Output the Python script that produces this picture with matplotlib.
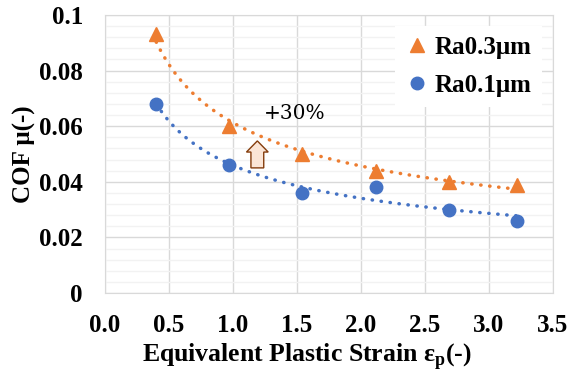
import numpy as np
import matplotlib.pyplot as plt
from matplotlib.patches import FancyArrow

# datos
strain = [0.40, 0.97, 1.54, 2.12, 2.69, 3.22]
cof_ra03 = [0.093, 0.060, 0.050, 0.044, 0.040, 0.039]
cof_ra01 = [0.068, 0.046, 0.036, 0.038, 0.030, 0.026]
x_ticks = [0.0, 0.5, 1.0, 1.5, 2.0, 2.5, 3.0, 3.5]
y_ticks = [0, 0.02, 0.04, 0.06, 0.08, 0.1]

naranja = '#ED7D31'
azul = '#4472C4'

plt.rcParams['font.family'] = ['Liberation Serif', 'DejaVu Serif']
plt.rcParams['font.weight'] = 'bold'
plt.rcParams['axes.labelweight'] = 'bold'
plt.rcParams['mathtext.fontset'] = 'custom'
plt.rcParams['mathtext.bf'] = 'Liberation Serif:bold'
plt.rcParams['mathtext.rm'] = 'Liberation Serif:bold'

fig = plt.figure(figsize=(5.68, 3.72), dpi=100)
ax = fig.add_axes([0.1849, 0.2124, 0.9736 - 0.1849, 0.9597 - 0.2124])

# lineas de tendencia tipo potencia (como Excel)
def potencia(x, y):
    b, ln_a = np.polyfit(np.log(x), np.log(y), 1)
    xs = np.linspace(min(x), max(x), 200)
    return xs, np.exp(ln_a) * xs ** b

for datos, color in [(cof_ra03, naranja), (cof_ra01, azul)]:
    xs, ys = potencia(strain, datos)
    ax.plot(xs, ys, color=color, lw=2.5, linestyle=(0, (0.1, 2.5)),
            dash_capstyle='round', zorder=2)

ax.plot(strain, cof_ra03, '^', color=naranja, ms=10, label='Ra0.3μm', zorder=3)
ax.plot(strain, cof_ra01, 'o', color=azul, ms=9, label='Ra0.1μm', zorder=3)

# flecha +30%
ax.add_patch(FancyArrow(1.19, 0.045, 0, 0.0097, width=0.1, head_width=0.17,
                        head_length=0.004, length_includes_head=True,
                        facecolor='#FBE5D6', edgecolor='#843C0C', lw=1, zorder=4))
ax.text(1.48, 0.0645, '+30%', family='DejaVu Serif', fontweight='medium',
        fontsize=14.5, ha='center', va='center', zorder=4)

ax.set_xlim(0, 3.5)
ax.set_ylim(0, 0.1)
ax.set_xticks(x_ticks)
ax.set_xticklabels([f'{v:.1f}' for v in x_ticks])
ax.set_yticks(y_ticks)
ax.set_yticklabels(['0', '0.02', '0.04', '0.06', '0.08', '0.1'])
ax.set_yticks(np.arange(0, 0.1, 0.004), minor=True)
ax.grid(True, which='major', color='#D9D9D9', lw=1, zorder=0)
ax.grid(True, which='minor', axis='y', color='#F2F2F2', lw=1, zorder=0)
ax.set_axisbelow(True)
ax.tick_params(which='both', length=0, labelsize=18)
ax.tick_params(axis='y', pad=16)
ax.tick_params(axis='x', pad=15)
for s in ax.spines.values():
    s.set_color('#D9D9D9')

ax.set_xlabel('Equivalent Plastic Strain ε$_\\mathbf{p}$(-)', fontsize=18.5, labelpad=2)
ax.xaxis.set_label_coords(0.451, -0.172)
ax.set_ylabel('COF μ(-)', fontsize=18, labelpad=2)

leg = ax.legend(loc='upper right', fontsize=18, frameon=True, fancybox=False,
                edgecolor='none', framealpha=1, handletextpad=0.2,
                borderaxespad=0.45, handlelength=1.0, labelspacing=0.6)

fig.savefig('out.png', dpi=100)
